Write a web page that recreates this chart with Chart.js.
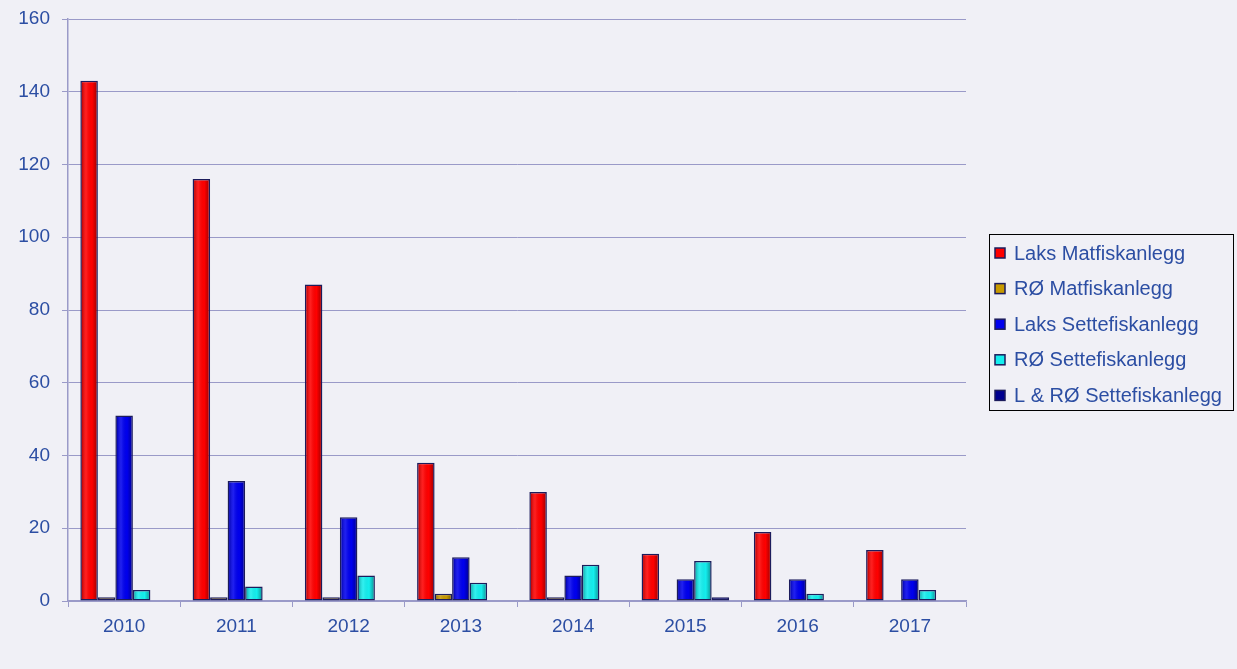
<!DOCTYPE html>
<html lang="no">
<head>
    <meta charset="UTF-8">
    <title>Utbrudd per år</title>
    <script src="https://cdn.jsdelivr.net/npm/chart.js"></script>
    <style>
        html, body { margin: 0; padding: 0; background: #f0f0f6; }
        .chart-wrapper { width: 1237px; height: 669px; position: relative; }
    </style>
</head>
<body>
    <div class="chart-wrapper">
        <canvas id="mainChart"></canvas>
    </div>

    <script>
        // data
        const years = ['2010', '2011', '2012', '2013', '2014', '2015', '2016', '2017'];
        const laksMat = [143, 116, 87, 38, 30, 13, 19, 14];
        const roMat = [1, 1, 1, 2, 1, 0, 0, 0];
        const laksSette = [51, 33, 23, 12, 7, 6, 6, 6];
        const roSette = [3, 4, 7, 5, 10, 11, 2, 3];
        const lroSette = [0, 0, 0, 0, 0, 1, 0, 0];
        const yTicks = [0, 20, 40, 60, 80, 100, 120, 140, 160];

        const textColor = '#2c4ea3';
        const gridColor = '#9a9ac8';
        const edgeColor = '#1c1c5c';
        const fontFamily = '"Liberation Sans", Arial, sans-serif';

        function series(label, data, color) {
            return {
                label: label,
                data: data,
                backgroundColor: color,
                borderColor: edgeColor,
                borderWidth: 1.5,
                borderSkipped: false
            };
        }

        // a bit of shading on each bar so they look like the bevelled original
        const bevel = {
            id: 'bevel',
            afterDatasetsDraw(chart) {
                const ctx = chart.ctx;
                ctx.save();
                chart.data.datasets.forEach((ds, i) => {
                    chart.getDatasetMeta(i).data.forEach(bar => {
                        const h = bar.base - bar.y;
                        if (h < 4) return;
                        const left = bar.x - bar.width / 2 + 1.5;
                        const w = bar.width - 3;
                        const g = ctx.createLinearGradient(left, 0, left + w, 0);
                        g.addColorStop(0, 'rgba(0,0,0,0.25)');
                        g.addColorStop(0.3, 'rgba(255,255,255,0.12)');
                        g.addColorStop(0.7, 'rgba(0,0,0,0)');
                        g.addColorStop(1, 'rgba(0,0,0,0.3)');
                        ctx.fillStyle = g;
                        ctx.fillRect(left, bar.y + 1.5, w, h - 3);
                    });
                });
                ctx.restore();
            }
        };

        // legend box drawn by hand, with a black border like the original
        const boxLegend = {
            id: 'boxLegend',
            afterDraw(chart) {
                const ctx = chart.ctx;
                const x = 989, y = 234, w = 244, h = 176;
                ctx.save();
                ctx.strokeStyle = '#000';
                ctx.lineWidth = 1;
                ctx.strokeRect(x + 0.5, y + 0.5, w, h);
                ctx.font = '20px ' + fontFamily;
                ctx.textBaseline = 'middle';
                chart.data.datasets.forEach((ds, i) => {
                    const cy = y + 19 + i * 35.6;
                    ctx.fillStyle = ds.backgroundColor;
                    ctx.fillRect(x + 6, cy - 5, 10, 10);
                    ctx.strokeStyle = edgeColor;
                    ctx.lineWidth = 1.5;
                    ctx.strokeRect(x + 6, cy - 5, 10, 10);
                    ctx.fillStyle = textColor;
                    ctx.fillText(ds.label, x + 25, cy + 1);
                });
                ctx.restore();
            }
        };

        new Chart(document.getElementById('mainChart'), {
            type: 'bar',
            data: {
                labels: years,
                datasets: [
                    series('Laks Matfiskanlegg', laksMat, '#ff0000'),
                    series('RØ Matfiskanlegg', roMat, '#c89a00'),
                    series('Laks Settefiskanlegg', laksSette, '#0000ee'),
                    series('RØ Settefiskanlegg', roSette, '#14eeee'),
                    series('L & RØ Settefiskanlegg', lroSette, '#000090')
                ]
            },
            options: {
                responsive: true,
                maintainAspectRatio: false,
                animation: false,
                layout: { padding: { top: 19, right: 271, left: 0, bottom: 0 } },
                datasets: {
                    bar: { categoryPercentage: 0.78, barPercentage: 1 }
                },
                plugins: {
                    legend: { display: false },
                    tooltip: { enabled: false }
                },
                scales: {
                    x: {
                        grid: {
                            display: true,
                            drawOnChartArea: false,
                            offset: true,
                            tickLength: 6,
                            color: gridColor
                        },
                        border: { color: gridColor, width: 1.5 },
                        ticks: {
                            color: textColor,
                            font: { family: fontFamily, size: 19 },
                            padding: 8
                        },
                        afterFit(scale) { scale.height = 68; }
                    },
                    y: {
                        min: 0,
                        max: 160,
                        afterBuildTicks(scale) {
                            scale.ticks = yTicks.map(v => ({ value: v }));
                        },
                        grid: { color: gridColor, lineWidth: 1, tickLength: 6 },
                        border: { color: gridColor, width: 1.5 },
                        ticks: {
                            color: textColor,
                            font: { family: fontFamily, size: 19 },
                            padding: 12
                        },
                        afterFit(scale) {
                            scale.width = 68;
                            scale.paddingTop = 0;
                            scale.paddingBottom = 0;
                        }
                    }
                }
            },
            plugins: [bevel, boxLegend]
        });
    </script>
</body>
</html>
